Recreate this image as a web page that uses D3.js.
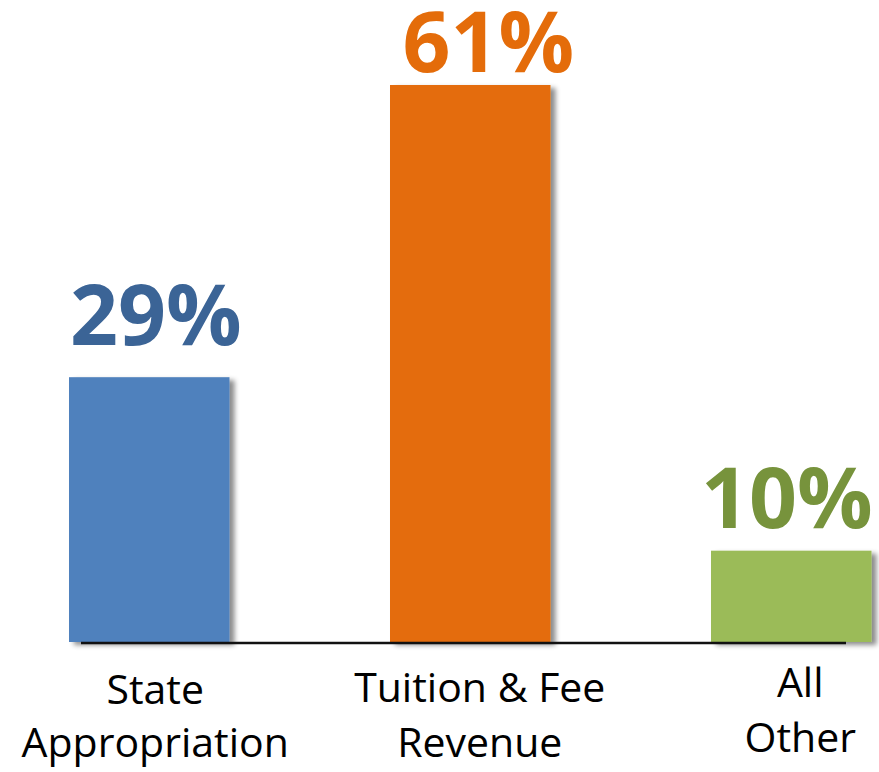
<!DOCTYPE html>
<html>
<head>
<meta charset="utf-8">
<script src="https://cdn.jsdelivr.net/npm/d3@7"></script>
<style>
  body { margin: 0; background: #fff; }
  svg { display: block; }
</style>
</head>
<body>
<div id="chart"></div>
<script>
// chart values
var categories = [["State", "Appropriation"], ["Tuition & Fee", "Revenue"], ["All", "Other"]];
var shares = [29, 61, 10];
var valueLabels = ["29%", "61%", "10%"];

// styling
var barColors = ["#4f81bd", "#e46c0a", "#9bbb59"];
var labelColors = ["#3b6496", "#e46c0a", "#77933c"];

// hand placed label nudges (the original labels are not centred exactly)
var valueNudge = [{dx: 6.5, dy: -32}, {dx: 18, dy: -13}, {dx: -4.5, dy: -23}];
var catNudge = [{dx: 6, y1: 704, y2: 757}, {dx: 9.5, y1: 702, y2: 757}, {dx: 9, y1: 697, y2: 752}];

var width = 879, height = 772;
var baseY = 642;

var svg = d3.select("#chart").append("svg")
  .attr("width", width)
  .attr("height", height);

var defs = svg.append("defs");
var shadow = defs.append("filter")
  .attr("id", "barShadow")
  .attr("x", "-10%").attr("y", "-10%")
  .attr("width", "130%").attr("height", "130%");
shadow.append("feDropShadow")
  .attr("dx", 5).attr("dy", 3)
  .attr("stdDeviation", 2.5)
  .attr("flood-color", "#000")
  .attr("flood-opacity", 0.45);

var x = d3.scaleBand()
  .domain(d3.range(categories.length))
  .range([-11.25, 951.75])
  .paddingInner(0.5)
  .paddingOuter(0.25);

var y = d3.scaleLinear()
  .domain([0, 61])
  .range([baseY, 85]);

svg.append("g")
  .selectAll("rect")
  .data(shares)
  .enter().append("rect")
    .attr("x", function(d, i) { return x(i); })
    .attr("y", function(d) { return y(d); })
    .attr("width", x.bandwidth())
    .attr("height", function(d) { return baseY - y(d); })
    .attr("fill", function(d, i) { return barColors[i]; })
    .attr("filter", "url(#barShadow)");

// baseline
svg.append("line")
  .attr("x1", 81)
  .attr("x2", 846)
  .attr("y1", baseY + 1)
  .attr("y2", baseY + 1)
  .attr("stroke", "#111")
  .attr("stroke-width", 2.5);

// value labels
svg.append("g")
  .selectAll("text")
  .data(shares)
  .enter().append("text")
    .attr("x", function(d, i) { return x(i) + x.bandwidth() / 2 + valueNudge[i].dx; })
    .attr("y", function(d, i) { return y(d) + valueNudge[i].dy; })
    .attr("text-anchor", "middle")
    .attr("font-family", "'Open Sans', sans-serif")
    .attr("font-weight", "bold")
    .attr("font-size", 84)
    .attr("fill", function(d, i) { return labelColors[i]; })
    .text(function(d, i) { return valueLabels[i]; });

// category labels
var cat = svg.append("g")
  .selectAll("g")
  .data(categories)
  .enter().append("g");

cat.each(function(d, i) {
  var g = d3.select(this);
  var cx = x(i) + x.bandwidth() / 2 + catNudge[i].dx;
  g.append("text")
    .attr("x", cx)
    .attr("y", catNudge[i].y1)
    .attr("text-anchor", "middle")
    .attr("font-family", "'Open Sans', sans-serif")
    .attr("font-size", 41)
    .attr("fill", "#000")
    .text(d[0]);
  g.append("text")
    .attr("x", cx)
    .attr("y", catNudge[i].y2)
    .attr("text-anchor", "middle")
    .attr("font-family", "'Open Sans', sans-serif")
    .attr("font-size", 41)
    .attr("fill", "#000")
    .text(d[1]);
});
</script>
</body>
</html>
